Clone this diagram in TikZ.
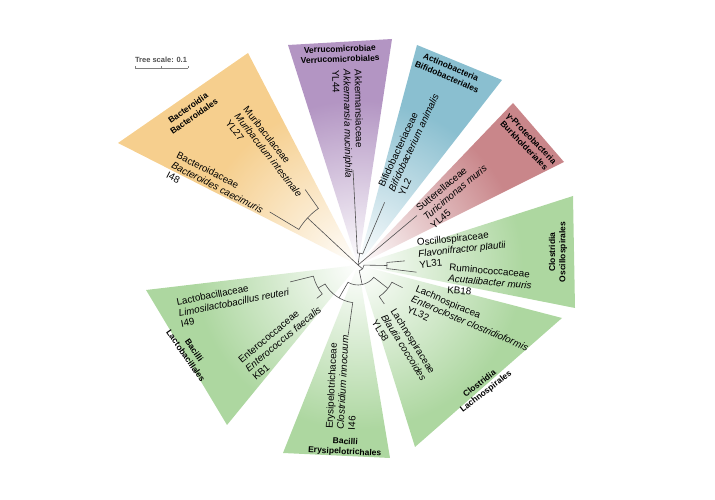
\documentclass[tikz,border=0pt]{standalone}
\usepackage{fontspec}
\setmainfont{Liberation Sans}
\usetikzlibrary{fadings,calc}
\tikzfading[name=glowout, inner color=transparent!0, outer color=transparent!100]
\definecolor{bactcol}{HTML}{F6CF8E}
\definecolor{verrcol}{HTML}{B395C3}
\definecolor{actcol}{HTML}{8ABFD0}
\definecolor{protcol}{HTML}{C9868A}
\definecolor{firmcol}{HTML}{ADD7A0}
\definecolor{treecol}{HTML}{505050}
\begin{document}
\begin{tikzpicture}[x=1pt, y=1pt,
    taxon/.style={align=left, inner sep=0pt, font=\fontsize{9.8}{11.2}\selectfont},
    clade/.style={align=center, inner sep=0pt, font=\fontsize{8.5}{10.2}\selectfont\bfseries},
    branch/.style={treecol, line width=0.6pt}]
\useasboundingbox (0,0) rectangle (715,500);
\coordinate (C) at (358,235);

% clade wedges
\fill[bactcol] (C) -- (248,447) -- (118,357) -- cycle;
\fill[verrcol] (C) -- (288,455) -- (392,461) -- cycle;
\fill[actcol] (C) -- (417,455) -- (502,420) -- cycle;
\fill[protcol] (C) -- (513,397) -- (564,338) -- cycle;
\fill[firmcol] (C) -- (573,304) -- (575,192) -- cycle;
\fill[firmcol] (C) -- (562,182) -- (415,53) -- cycle;
\fill[firmcol] (C) -- (390,42) -- (283,47) -- cycle;
\fill[firmcol] (C) -- (227,75) -- (146,210) -- cycle;
\fill[white, path fading=glowout] (C) circle (165);

% clade names
\node[clade, rotate=35] (cBac) at (191,388) {Bacteroidia\\Bacteroidales};
\node[clade, rotate=2] (cVer) at (340,446) {Verrucomicrobiae\\Verrucomicrobiales};
\node[clade, rotate=-23] (cAct) at (449,428) {Actinobacteria\\Bifidobacteriales};
\node[clade, rotate=-46] (cPro) at (528,358) {γ-Proteobacteria\\Burkholderiales};
\node[clade, rotate=90] (cOsc) at (558,248) {Clostridia\\Oscillospirales};
\node[clade, rotate=38] (cLac) at (483,112) {Clostridia\\Lachnospirales};
\node[clade, rotate=-3] (cEry) at (345,53) {Bacilli\\Erysipelotrichales};
\node[clade, rotate=-55] (cLab) at (190,147) {Bacilli\\Lactobacillales};

% taxa
\node[taxon, rotate=-52] (tMuri) at (268.5,345) {Muribaculaceae\\\textit{Muribaculum intestinale}\\YL27};
\node[taxon, rotate=-27] (tBact) at (217.5,312.5) {Bacteroidaceae\\\textit{Bacteroides caecimuris}\\I48};
\node[taxon, rotate=-89] (tAkk) at (348,376) {Akkermansiaceae\\\textit{Akkermansia muciniphila}\\YL44};
\node[taxon, rotate=65] (tBif) at (413.5,357.5) {Bifidobacteriaceae\\\textit{Bifidobacterium animalis}\\YL2};
\node[taxon, rotate=40] (tTur) at (455,307.7) {Sutterellaceae\\\textit{Turicimonas muris}\\YL45};
\node[taxon, rotate=6] (tFla) at (462,251) {Oscillospiraceae\\\textit{Flavonifractor plautii}\\YL31};
\node[taxon, rotate=-5] (tAcu) at (490,218) {Ruminococcaceae\\\textit{Acutalibacter muris}\\KB18};
\node[taxon, rotate=-23] (tEnc) at (470,176.7) {Lachnospiracea\\\textit{Enterocloster clostridioformis}\\YL32};
\node[taxon, rotate=-58] (tBla) at (404,152.5) {Lachnospiraceae\\\textit{Blautia coccoides}\\YL58};
\node[taxon, rotate=87] (tEry) at (342.7,117.7) {Erysipelotrichaceae\\\textit{Clostridium innocuum}\\I46};
\node[taxon, rotate=40] (tEnt) at (283.3,161) {Enterococcaceae\\\textit{Enterococcus faecalis}\\KB1};
\node[taxon, rotate=11] (tReu) at (234,197.7) {Lactobacillaceae\\\textit{Limosilactobacillus reuteri}\\I49};

% tree
\begin{scope}[shift={(C)}, branch]
  \coordinate (root) at (0,0);
  \coordinate (nBac) at (137:69);
  \coordinate (nVA) at (82:12);
  \coordinate (nFir) at (-40:6);
  \coordinate (nOsc) at (-1:29);
  \coordinate (nLB) at (-78:20);
  \coordinate (nLach) at (-38:38);
  \coordinate (nBacil) at (-120:38);
  \coordinate (nLac) at (-150:46);
  \coordinate (lMuri) at (125:92);
  \coordinate (lBact) at (149:103);
  \coordinate (lAkk) at (93:95);
  \coordinate (lBif) at (67:68);
  \coordinate (lTur) at (40:77);
  \coordinate (lFla) at (5:47);
  \coordinate (lAcu) at (-7:59);
  \coordinate (lEnc) at (-27:50);
  \coordinate (lBla) at (-56:47);
  \coordinate (lEry) at (-98:71);
  \coordinate (lEnt) at (-141:53);
  \coordinate (lReu) at (-166:70);
  \draw (root) -- (nBac);
  \draw (lMuri) -- (125:69) arc[start angle=125, end angle=149, radius=69] -- (lBact);
  \draw (root) -- (nVA);
  \draw (lAkk) -- (93:12) arc[start angle=93, end angle=67, radius=12] -- (lBif);
  \draw (root) -- (lTur);
  \draw (root) -- (nFir);
  \draw (nOsc) -- (-1:6) arc[start angle=-1, end angle=-78, radius=6] -- (nLB);
  \draw (lFla) -- (5:29) arc[start angle=5, end angle=-7, radius=29] -- (lAcu);
  \draw (nLach) -- (-38:20) arc[start angle=-38, end angle=-120, radius=20] -- (nBacil);
  \draw (lEnc) -- (-27:38) arc[start angle=-27, end angle=-56, radius=38] -- (lBla);
  \draw (lEry) -- (-98:38) arc[start angle=-98, end angle=-150, radius=38] -- (nLac);
  \draw (lEnt) -- (-141:46) arc[start angle=-141, end angle=-166, radius=46] -- (lReu);
\end{scope}

% tree scale
\node[font=\fontsize{7.5}{8}\selectfont\bfseries, text=treecol] (scale) at (161,440) {Tree scale: 0.1};
\coordinate (sb1) at (135,432);
\coordinate (sb2) at (188,432);
\draw[gray, line width=0.5pt] (sb1) -- (sb2);
\draw[gray, line width=0.5pt] (sb1) -- ++(0,1.5) (sb2) -- ++(0,1.5) ($(sb1)!0.5!(sb2)$) -- ++(0,1.5);
\end{tikzpicture}
\end{document}
